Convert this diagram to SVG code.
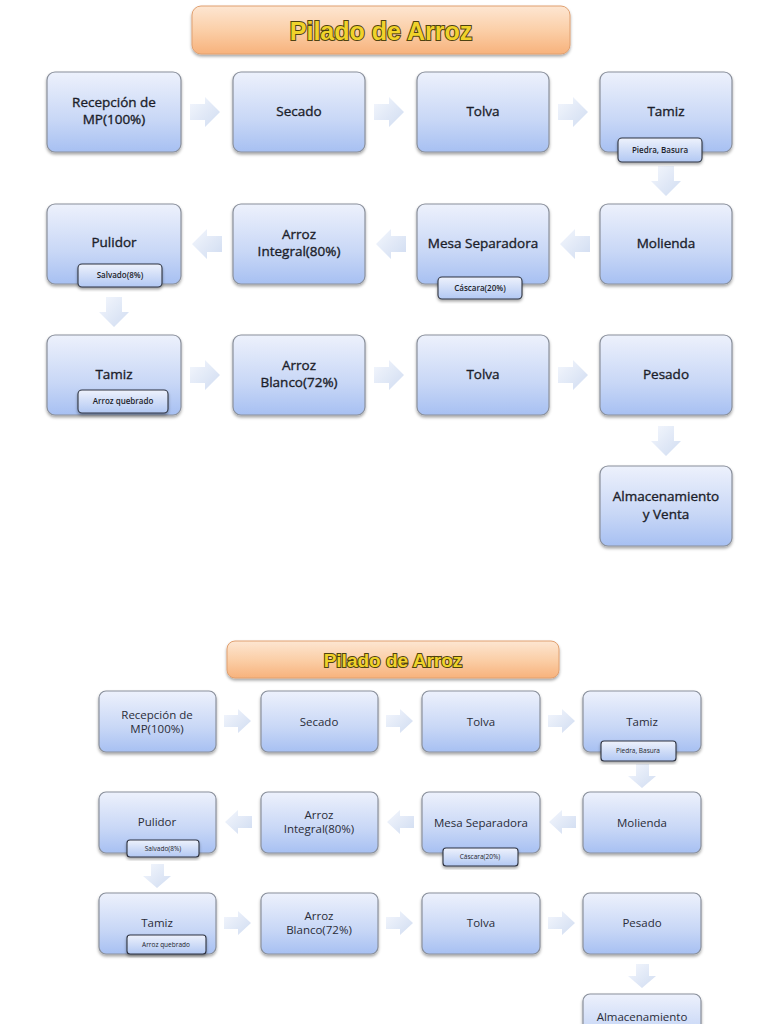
<svg xmlns="http://www.w3.org/2000/svg" width="768" height="1024" viewBox="0 0 768 1024">
<defs>
<linearGradient id="gNode" x1="0" y1="0" x2="0" y2="1">
<stop offset="0" stop-color="#edf1fc"/><stop offset="0.6" stop-color="#c8d7f6"/><stop offset="1" stop-color="#a7c0f2"/>
</linearGradient>
<linearGradient id="gTag" x1="0" y1="0" x2="0" y2="1">
<stop offset="0" stop-color="#eef2fc"/><stop offset="1" stop-color="#b2c8f3"/>
</linearGradient>
<linearGradient id="gTitle" x1="0" y1="0" x2="0" y2="1">
<stop offset="0" stop-color="#fde6d2"/><stop offset="0.5" stop-color="#fbcfa8"/><stop offset="1" stop-color="#f7b27c"/>
</linearGradient>
<linearGradient id="gArrow" x1="0" y1="0" x2="1" y2="1">
<stop offset="0" stop-color="#f4f7fd"/><stop offset="1" stop-color="#d0dcf1"/>
</linearGradient>
<filter id="sh" x="-10%" y="-10%" width="120%" height="130%">
<feDropShadow dx="0" dy="2" stdDeviation="1.6" flood-color="#000" flood-opacity="0.35"/>
</filter>
<style>
.node{fill:url(#gNode);stroke:#8a909c;stroke-width:1.2;filter:url(#sh)}
.tag{fill:url(#gTag);stroke:#2e3340;stroke-width:1.1;filter:url(#sh)}
.title{fill:url(#gTitle);stroke:#e0a070;stroke-width:1;filter:url(#sh)}
.arr{fill:url(#gArrow);stroke:none}
.t{font-family:"Open Sans","Noto Sans","Liberation Sans",sans-serif;fill:#1c1e2a;stroke:#1c1e2a;stroke-width:0.35;text-anchor:middle;font-size:13.5px}
.t2{font-family:"Open Sans","Noto Sans","Liberation Sans",sans-serif;fill:#2a2c38;text-anchor:middle;font-size:11.5px}
.tt{font-family:"Open Sans","Noto Sans","Liberation Sans",sans-serif;fill:#1c1e2a;text-anchor:middle;font-size:8px;font-weight:600}
.tt2{font-family:"Open Sans","Noto Sans","Liberation Sans",sans-serif;fill:#1c1e2a;text-anchor:middle;font-size:6.5px}
.ti{font-family:"Liberation Sans","Noto Sans",sans-serif;font-weight:bold;fill:#f0d22a;stroke:#4e4210;stroke-width:2;paint-order:stroke;text-anchor:middle}
</style>
</defs>
<rect width="768" height="1024" fill="#ffffff"/>

<!-- ===== TOP COPY ===== -->
<g id="title1"><rect class="title" x="192" y="6" width="378" height="48" rx="9"/><text class="ti" x="381" y="40" font-size="25">Pilado de Arroz</text></g>

<g id="connectors1">
<polygon class="arr" points="190,104 205,104 205,97 220,112 205,127 205,120 190,120"/>
<polygon class="arr" points="374,104 389,104 389,97 404,112 389,127 389,120 374,120"/>
<polygon class="arr" points="558,104 573,104 573,97 588,112 573,127 573,120 558,120"/>
<polygon class="arr" points="658,166 674,166 674,181 681,181 666,196 651,181 658,181"/>
<polygon class="arr" points="590,236 575,236 575,229 560,244 575,259 575,252 590,252"/>
<polygon class="arr" points="406,236 391,236 391,229 376,244 391,259 391,252 406,252"/>
<polygon class="arr" points="222,236 207,236 207,229 192,244 207,259 207,252 222,252"/>
<polygon class="arr" points="106,297 122,297 122,312 129,312 114,327 99,312 106,312"/>
<polygon class="arr" points="190,367 205,367 205,360 220,375 205,390 205,383 190,383"/>
<polygon class="arr" points="374,367 389,367 389,360 404,375 389,390 389,383 374,383"/>
<polygon class="arr" points="558,367 573,367 573,360 588,375 573,390 573,383 558,383"/>
<polygon class="arr" points="658,426 674,426 674,441 681,441 666,456 651,441 658,441"/>
</g>

<g id="n1"><rect class="node" x="47" y="72" width="134" height="80" rx="8"/><text class="t" x="114" y="107">Recepción de</text><text class="t" x="114" y="124">MP(100%)</text></g>
<g id="n2"><rect class="node" x="233" y="72" width="132" height="80" rx="8"/><text class="t" x="299" y="116">Secado</text></g>
<g id="n3"><rect class="node" x="417" y="72" width="132" height="80" rx="8"/><text class="t" x="483" y="116">Tolva</text></g>
<g id="n4"><rect class="node" x="600" y="72" width="132" height="80" rx="8"/><text class="t" x="666" y="116">Tamiz</text>
<rect class="tag" x="618" y="138" width="84" height="24" rx="4"/><text class="tt" x="660" y="153">Piedra, Basura</text></g>
<g id="n5"><rect class="node" x="600" y="204" width="132" height="80" rx="8"/><text class="t" x="666" y="248">Molienda</text></g>
<g id="n6"><rect class="node" x="417" y="204" width="132" height="80" rx="8"/><text class="t" x="483" y="248">Mesa Separadora</text>
<rect class="tag" x="438" y="277" width="84" height="22" rx="4"/><text class="tt" x="480" y="291">Cáscara(20%)</text></g>
<g id="n7"><rect class="node" x="233" y="204" width="132" height="80" rx="8"/><text class="t" x="299" y="239">Arroz</text><text class="t" x="299" y="256">Integral(80%)</text></g>
<g id="n8"><rect class="node" x="47" y="204" width="134" height="80" rx="8"/><text class="t" x="114" y="247">Pulidor</text>
<rect class="tag" x="78" y="264" width="84" height="23" rx="4"/><text class="tt" x="120" y="278">Salvado(8%)</text></g>
<g id="n9"><rect class="node" x="47" y="335" width="134" height="80" rx="8"/><text class="t" x="114" y="379">Tamiz</text>
<rect class="tag" x="78" y="390" width="90" height="23" rx="4"/><text class="tt" x="123" y="404">Arroz quebrado</text></g>
<g id="n10"><rect class="node" x="233" y="335" width="132" height="80" rx="8"/><text class="t" x="299" y="370">Arroz</text><text class="t" x="299" y="387">Blanco(72%)</text></g>
<g id="n11"><rect class="node" x="417" y="335" width="132" height="80" rx="8"/><text class="t" x="483" y="379">Tolva</text></g>
<g id="n12"><rect class="node" x="600" y="335" width="132" height="80" rx="8"/><text class="t" x="666" y="379">Pesado</text></g>
<g id="n13"><rect class="node" x="600" y="466" width="132" height="80" rx="8"/><text class="t" x="666" y="501">Almacenamiento</text><text class="t" x="666" y="519">y Venta</text></g>

<!-- ===== BOTTOM COPY ===== -->
<g id="title2"><rect class="title" x="227" y="641" width="332" height="37" rx="8"/><text class="ti" x="393" y="667" font-size="19" stroke-width="1.6">Pilado de Arroz</text></g>

<g id="connectors2">
<polygon class="arr" points="224,715 238,715 238,709 251,721 238,733 238,727 224,727"/>
<polygon class="arr" points="386,715 400,715 400,709 413,721 400,733 400,727 386,727"/>
<polygon class="arr" points="548,715 562,715 562,709 575,721 562,733 562,727 548,727"/>
<polygon class="arr" points="636,764 649,764 649,776 656,776 642,788 628,776 636,776"/>
<polygon class="arr" points="576,816 562,816 562,810 549,822 562,834 562,828 576,828"/>
<polygon class="arr" points="414,816 400,816 400,810 387,822 400,834 400,828 414,828"/>
<polygon class="arr" points="252,816 238,816 238,810 225,822 238,834 238,828 252,828"/>
<polygon class="arr" points="151,864 164,864 164,876 171,876 157,888 143,876 151,876"/>
<polygon class="arr" points="224,917 238,917 238,911 251,923 238,935 238,929 224,929"/>
<polygon class="arr" points="386,917 400,917 400,911 413,923 400,935 400,929 386,929"/>
<polygon class="arr" points="548,917 562,917 562,911 575,923 562,935 562,929 548,929"/>
<polygon class="arr" points="636,964 649,964 649,976 656,976 642,988 628,976 636,976"/>
</g>

<g id="m1"><rect class="node" x="99" y="691" width="117" height="61" rx="7"/><text class="t2" x="157" y="719">Recepción de</text><text class="t2" x="157" y="733">MP(100%)</text></g>
<g id="m2"><rect class="node" x="261" y="691" width="117" height="61" rx="7"/><text class="t2" x="319" y="726">Secado</text></g>
<g id="m3"><rect class="node" x="422" y="691" width="118" height="61" rx="7"/><text class="t2" x="481" y="726">Tolva</text></g>
<g id="m4"><rect class="node" x="583" y="691" width="118" height="61" rx="7"/><text class="t2" x="642" y="726">Tamiz</text>
<rect class="tag" x="601" y="741" width="75" height="20" rx="3"/><text class="tt2" x="638" y="753">Piedra, Basura</text></g>
<g id="m5"><rect class="node" x="583" y="792" width="118" height="61" rx="7"/><text class="t2" x="642" y="827">Molienda</text></g>
<g id="m6"><rect class="node" x="422" y="792" width="118" height="61" rx="7"/><text class="t2" x="481" y="827">Mesa Separadora</text>
<rect class="tag" x="443" y="848" width="75" height="18" rx="3"/><text class="tt2" x="480" y="859">Cáscara(20%)</text></g>
<g id="m7"><rect class="node" x="261" y="792" width="117" height="61" rx="7"/><text class="t2" x="319" y="819">Arroz</text><text class="t2" x="319" y="833">Integral(80%)</text></g>
<g id="m8"><rect class="node" x="99" y="792" width="117" height="61" rx="7"/><text class="t2" x="157" y="826">Pulidor</text>
<rect class="tag" x="127" y="840" width="72" height="17" rx="3"/><text class="tt2" x="163" y="851">Salvado(8%)</text></g>
<g id="m9"><rect class="node" x="99" y="893" width="117" height="61" rx="7"/><text class="t2" x="157" y="927">Tamiz</text>
<rect class="tag" x="127" y="935" width="79" height="19" rx="3"/><text class="tt2" x="166" y="947">Arroz quebrado</text></g>
<g id="m10"><rect class="node" x="261" y="893" width="117" height="61" rx="7"/><text class="t2" x="319" y="920">Arroz</text><text class="t2" x="319" y="934">Blanco(72%)</text></g>
<g id="m11"><rect class="node" x="422" y="893" width="118" height="61" rx="7"/><text class="t2" x="481" y="927">Tolva</text></g>
<g id="m12"><rect class="node" x="583" y="893" width="118" height="61" rx="7"/><text class="t2" x="642" y="927">Pesado</text></g>
<g id="m13"><rect class="node" x="583" y="994" width="118" height="61" rx="7"/><text class="t2" x="642" y="1021">Almacenamiento</text></g>
</svg>
